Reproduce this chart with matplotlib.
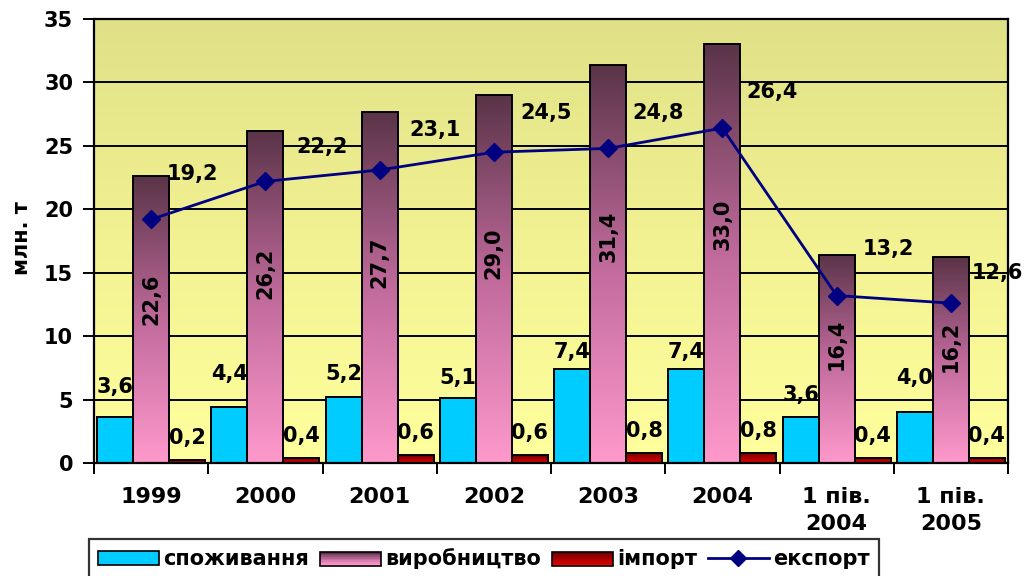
import numpy as np
import matplotlib
matplotlib.use("Agg")
import matplotlib.pyplot as plt
from matplotlib.colors import LinearSegmentedColormap
from matplotlib.patches import Rectangle
from matplotlib.lines import Line2D
from matplotlib.legend_handler import HandlerBase

# --- data (млн. т) ---
categories = ["1999", "2000", "2001", "2002", "2003", "2004",
              "1 пів.\n2004", "1 пів.\n2005"]
consumption = [3.6, 4.4, 5.2, 5.1, 7.4, 7.4, 3.6, 4.0]
production  = [22.6, 26.2, 27.7, 29.0, 31.4, 33.0, 16.4, 16.2]
imports     = [0.2, 0.4, 0.6, 0.6, 0.8, 0.8, 0.4, 0.4]
exports     = [19.2, 22.2, 23.1, 24.5, 24.8, 26.4, 13.2, 12.6]
series_names = ["споживання", "виробництво", "імпорт", "експорт"]

plt.rcParams['font.family'] = ['DejaVu Sans']
plt.rcParams['font.weight'] = 'bold'
FS = 15

CYAN = "#00CCFF"
PINK_CM = LinearSegmentedColormap.from_list("pink", ["#FF99CC", "#C06A9C", "#5A3448"])
RED_CM = LinearSegmentedColormap.from_list("red", ["#E00000", "#700000"])
BG_CM = LinearSegmentedColormap.from_list("bg", ["#FFFF9E", "#F2F292", "#E0E088"])
LINE_C = "#000080"

fmt = lambda v: f"{v:.1f}".replace(".", ",")

fig = plt.figure(figsize=(10.32, 5.76), dpi=100)
ax = fig.add_axes([94/1032, 1 - 463/576, 914/1032, 444/576])

x = np.arange(len(categories))
w = 0.315

ax.set_xlim(-0.5, len(categories) - 0.5)
ax.set_ylim(0, 35)

# background gradient
grad = np.linspace(0, 1, 256).reshape(-1, 1)
ax.imshow(grad, cmap=BG_CM, origin="lower", aspect="auto",
          extent=(-0.5, len(categories) - 0.5, 0, 35), zorder=0)

ax.set_yticks(range(0, 36, 5))
ax.grid(axis="y", color="black", lw=1.4, zorder=1)


def gradient_bars(xs, vals, cmap):
    bars = ax.bar(xs, vals, w, facecolor="none", edgecolor="black", lw=1.4, zorder=3)
    for b in bars:
        x0, y0 = b.get_x(), b.get_y()
        im = ax.imshow(grad, cmap=cmap, origin="lower", aspect="auto",
                       extent=(x0, x0 + b.get_width(), y0, y0 + b.get_height()),
                       zorder=2)
        im.set_clip_path(b)
    return bars


ax.bar(x - w, consumption, w, color=CYAN, edgecolor="black", lw=1.4, zorder=3)
gradient_bars(x, production, PINK_CM)
gradient_bars(x + w, imports, RED_CM)

ax.plot(x, exports, color=LINE_C, lw=2, marker="D", ms=9, zorder=5)

# value labels (offsets as placed in the original)
cons_dy = [30, 33, 23, 20, 17, 17, 22, 34]
for xi, v, dy in zip(x, consumption, cons_dy):
    ax.annotate(fmt(v), (xi - w, v), xytext=(0, dy), textcoords="offset pixels",
                ha="center", va="center", fontsize=FS, fontweight="bold", zorder=6)
for xi, v in zip(x, imports):
    ax.annotate(fmt(v), (xi + w, v), xytext=(0, 22), textcoords="offset pixels",
                ha="center", va="center", fontsize=FS, fontweight="bold", zorder=6)
for xi, v in zip(x, production):
    ax.text(xi, v * 0.57, fmt(v), rotation=90, ha="center", va="center",
            fontsize=FS, fontweight="bold", zorder=6)
exp_off = [(41, 45), (57, 34), (55, 40), (52, 39), (50, 35), (50, 36), (52, 47), (46, 30)]
for xi, v, (dx, dy) in zip(x, exports, exp_off):
    ax.annotate(fmt(v), (xi, v), xytext=(dx, dy), textcoords="offset pixels",
                ha="center", va="center", fontsize=FS, fontweight="bold",
                zorder=6, annotation_clip=False)

# axes styling
for s in ax.spines.values():
    s.set_linewidth(1.6)
    s.set_color("black")
    s.set_zorder(7)
ax.set_xticks(x)
ax.set_xticklabels(categories, fontsize=16, fontweight="bold", linespacing=1.45)
ax.set_xticks(np.arange(-0.5, len(categories), 1), minor=True)
ax.tick_params(axis="x", which="major", length=0, pad=17)
ax.tick_params(axis="x", which="minor", length=8, width=1.4, direction="out")
ax.tick_params(axis="y", length=8, width=1.4, pad=7, labelsize=FS)
for t in ax.get_yticklabels():
    t.set_fontweight("bold")
fig.text(22/1032, 1 - 238/576, "млн. т", rotation=90, ha="center", va="center",
         fontsize=15, fontweight="bold")


# legend with gradient swatches
class GradHandler(HandlerBase):
    def __init__(self, cmap):
        super().__init__()
        self.cmap = cmap

    def create_artists(self, legend, orig, xd, yd, width, height, fontsize, trans):
        n = 8
        arts = []
        for i in range(n):
            r = Rectangle((xd, yd + height * i / n), width, height / n,
                          facecolor=self.cmap(i / (n - 1)), edgecolor="none",
                          transform=trans)
            arts.append(r)
        arts.append(Rectangle((xd, yd), width, height, facecolor="none",
                              edgecolor="black", lw=1.2, transform=trans))
        return arts


h_cons = Rectangle((0, 0), 1, 1, facecolor=CYAN, edgecolor="black", lw=1.2)
h_prod = Rectangle((0, 0), 1, 1)
h_imp = Rectangle((0, 0), 1, 1)
h_exp = Line2D([], [], color=LINE_C, lw=2, marker="D", ms=8)
leg = fig.legend([h_cons, h_prod, h_imp, h_exp], series_names,
                 handler_map={h_prod: GradHandler(PINK_CM), h_imp: GradHandler(RED_CM)},
                 loc="upper left", bbox_to_anchor=(89/1032, 1 - 539/576),
                 ncol=4, frameon=True, fancybox=False,
                 prop={"weight": "bold", "size": 15}, handlelength=2.9,
                 handleheight=0.65, handletextpad=0.2, columnspacing=0.55,
                 borderpad=0.45, borderaxespad=0)
leg.get_frame().set_edgecolor("black")
leg.get_frame().set_linewidth(1.6)

fig.savefig("out.png", dpi=100)
